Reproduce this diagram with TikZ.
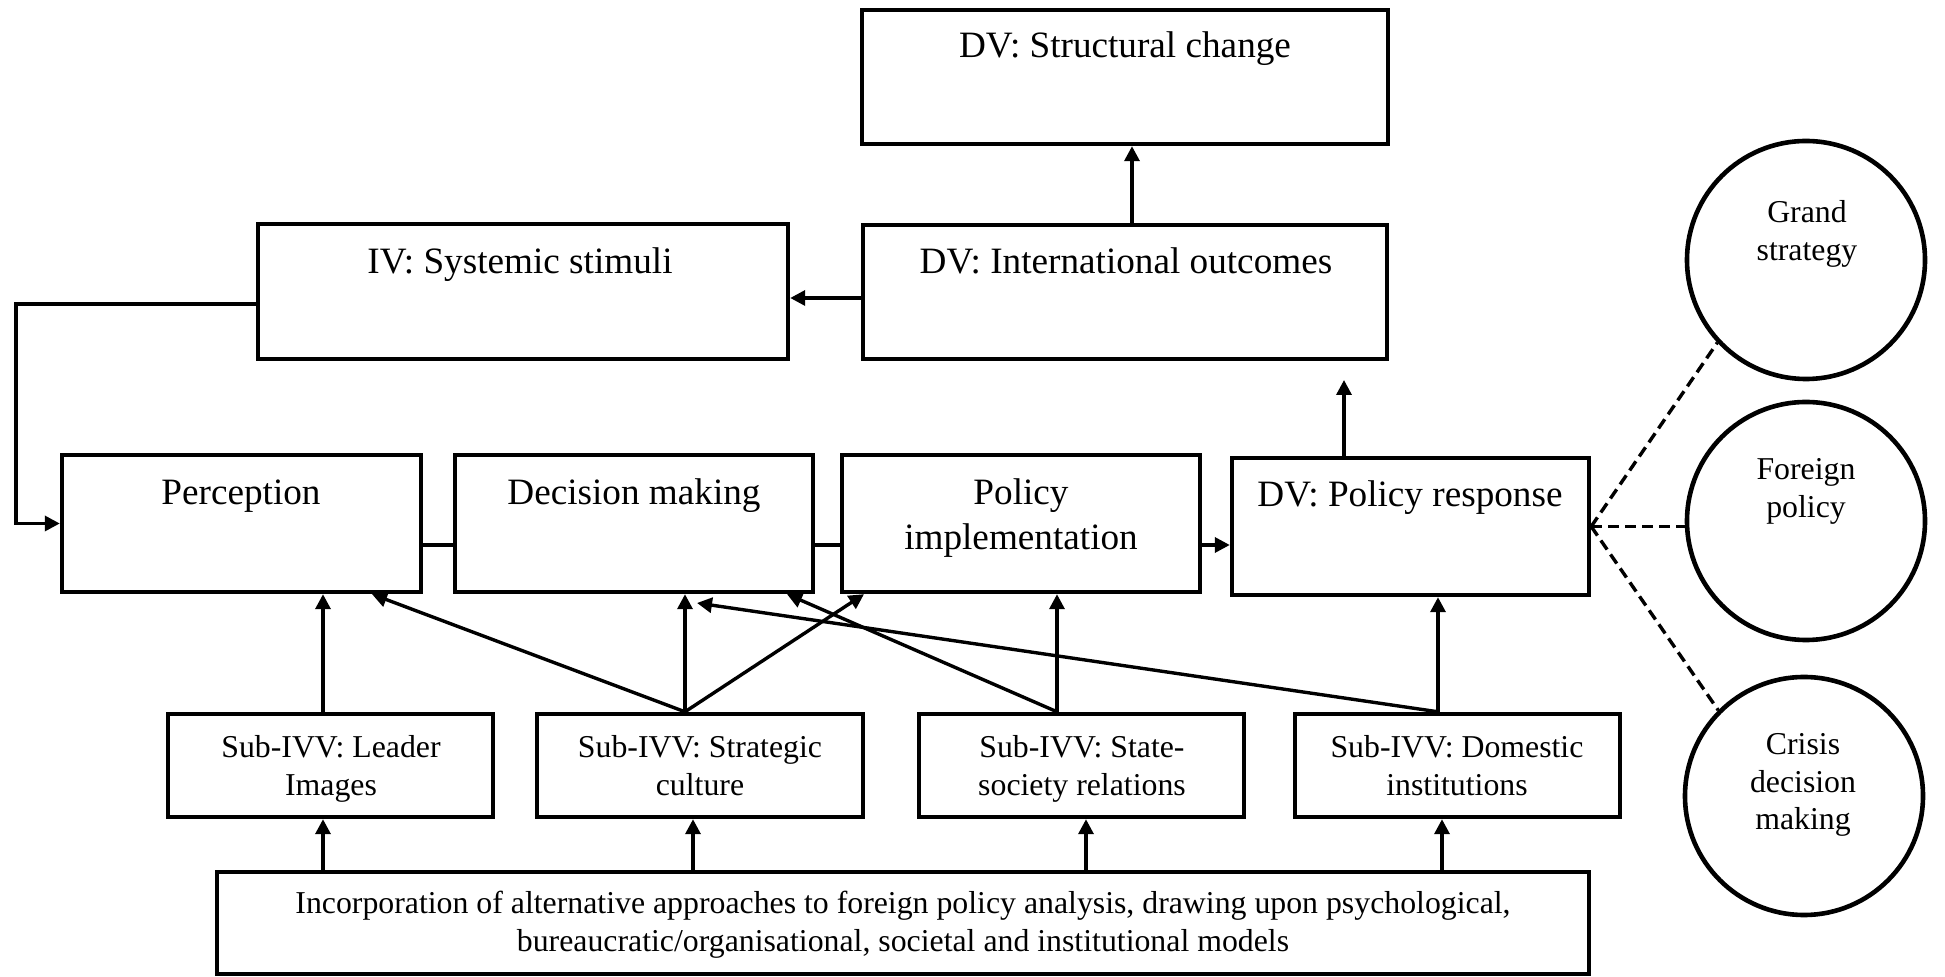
\documentclass[tikz,border=0pt]{standalone}
\usepackage{fontspec}
\setmainfont{Liberation Serif}
\usetikzlibrary{arrows.meta}
\begin{document}
\begin{tikzpicture}[x=0.5pt,y=-0.5pt,
  box/.style={draw=black, line width=2.2pt, rectangle, inner sep=0pt},
  circ/.style={draw=black, circle, line width=2.3pt, minimum size=119pt, inner sep=0pt},
  bigtxt/.style={anchor=north, inner sep=0pt, align=center, font=\fontsize{18.6pt}{22.5pt}\selectfont},
  smalltxt/.style={anchor=north, inner sep=0pt, align=center, font=\fontsize{15.9pt}{18.8pt}\selectfont},
  arr/.style={line width=1.7pt, -{Triangle[length=7.5pt,width=7.5pt]}},
  conn/.style={line width=1.7pt},
  dashline/.style={line width=1.7pt, dash pattern=on 5.5pt off 3pt}]
\useasboundingbox (0,0) rectangle (1945,977);

% boxes
\node[box, minimum width=263pt, minimum height=67pt] (sc) at (1125,77) {};
\node[box, minimum width=262pt, minimum height=67pt] (io) at (1125,292) {};
\node[box, minimum width=265pt, minimum height=67.5pt] (ss) at (523,291.5) {};
\node[box, minimum width=179.5pt, minimum height=68.5pt] (pc) at (241.5,523.5) {};
\node[box, minimum width=179pt, minimum height=68.5pt] (dm) at (634,523.5) {};
\node[box, minimum width=179pt, minimum height=68.5pt] (pi) at (1021,523.5) {};
\node[box, minimum width=178.5pt, minimum height=68.5pt] (pr) at (1410.5,526.5) {};
\node[box, minimum width=162.5pt, minimum height=51.5pt] (li) at (330.5,765.5) {};
\node[box, minimum width=163pt, minimum height=51.5pt] (scu) at (700,765.5) {};
\node[box, minimum width=162.5pt, minimum height=51.5pt] (sts) at (1081.5,765.5) {};
\node[box, minimum width=162.5pt, minimum height=51.5pt] (di) at (1457.5,765.5) {};
\node[box, minimum width=686pt, minimum height=51pt] (bb) at (903,923) {};

% circles
\node[circ] (gs) at (1806,260) {};
\node[circ] (fp) at (1806,521) {};
\node[circ] (cd) at (1804,796) {};

% texts
\node[bigtxt] (sct) at (1125,31) {DV: Structural change};
\node[bigtxt] (iot) at (1126,247) {DV: International outcomes};
\node[bigtxt] (sst) at (520,247) {IV: Systemic stimuli};
\node[bigtxt] (pct) at (241,479) {Perception};
\node[bigtxt] (dmt) at (634,478) {Decision making};
\node[bigtxt] (pit) at (1021,478) {Policy\\implementation};
\node[bigtxt] (prt) at (1410,480) {DV: Policy response};
\node[smalltxt] (lit) at (331,735) {Sub-IVV: Leader\\Images};
\node[smalltxt] (scut) at (700,735) {Sub-IVV: Strategic\\culture};
\node[smalltxt] (stst) at (1082,735) {Sub-IVV: State-\\society relations};
\node[smalltxt] (dit) at (1457,735) {Sub-IVV: Domestic\\institutions};
\node[smalltxt] (bbt) at (903,891) {Incorporation of alternative approaches to foreign policy analysis, drawing upon psychological,\\bureaucratic/organisational, societal and institutional models};
\node[smalltxt] (gst) at (1807,200) {Grand\\strategy};
\node[smalltxt] (fpt) at (1806,458) {Foreign\\policy};
\node[smalltxt] (cdt) at (1803,733) {Crisis\\decision\\making};

% helper coordinates
\coordinate (ax1) at (1132,0);
\coordinate (ay1) at (0,298);
\coordinate (fb1) at (16,304);
\coordinate (ly) at (0,545);
\coordinate (ax2) at (1344,0);
\coordinate (tipup) at (1344,380);
\coordinate (xa) at (323,0);
\coordinate (xb) at (685,0);
\coordinate (xc) at (372,0);
\coordinate (xd) at (864,0);
\coordinate (xe) at (1057,0);
\coordinate (xf) at (787,0);
\coordinate (xg) at (1438,0);
\coordinate (dtip) at (697,603);
\coordinate (xh) at (693,0);
\coordinate (xi) at (1086,0);
\coordinate (xj) at (1442,0);

% upper connectors
\draw[arr] (io.north -| ax1) -- (sc.south -| ax1);
\draw[arr] (io.west |- ay1) -- (ss.east |- ay1);
\draw[arr] (ss.west |- fb1) -- (fb1) |- (pc.west);
\draw[conn] (pc.east |- ly) -- (dm.west |- ly);
\draw[conn] (dm.east |- ly) -- (pi.west |- ly);
\draw[arr] (pi.east |- ly) -- (pr.west |- ly);
\draw[arr] (pr.north -| ax2) -- (tipup);

% sub-IVV to middle row
\draw[arr] (li.north -| xa) -- (pc.south -| xa);
\draw[arr] (scu.north -| xb) -- (pc.south -| xc);
\draw[arr] (scu.north -| xb) -- (dm.south -| xb);
\draw[arr] (scu.north -| xb) -- (pi.south -| xd);
\draw[arr] (sts.north -| xe) -- (pi.south -| xe);
\draw[arr] (sts.north -| xe) -- (dm.south -| xf);
\draw[arr] (di.north -| xg) -- (pr.south -| xg);
\draw[arr] (di.north -| xg) -- (dtip);

% bottom box to sub-IVV
\draw[arr] (bb.north -| xa) -- (li.south -| xa);
\draw[arr] (bb.north -| xh) -- (scu.south -| xh);
\draw[arr] (bb.north -| xi) -- (sts.south -| xi);
\draw[arr] (bb.north -| xj) -- (di.south -| xj);

% dashed links
\draw[dashline] (pr.east) -- (gs.223);
\draw[dashline] (pr.east) -- (pr.east -| fp.west);
\draw[dashline] (pr.east) -- (cd.135);
\end{tikzpicture}
\end{document}
